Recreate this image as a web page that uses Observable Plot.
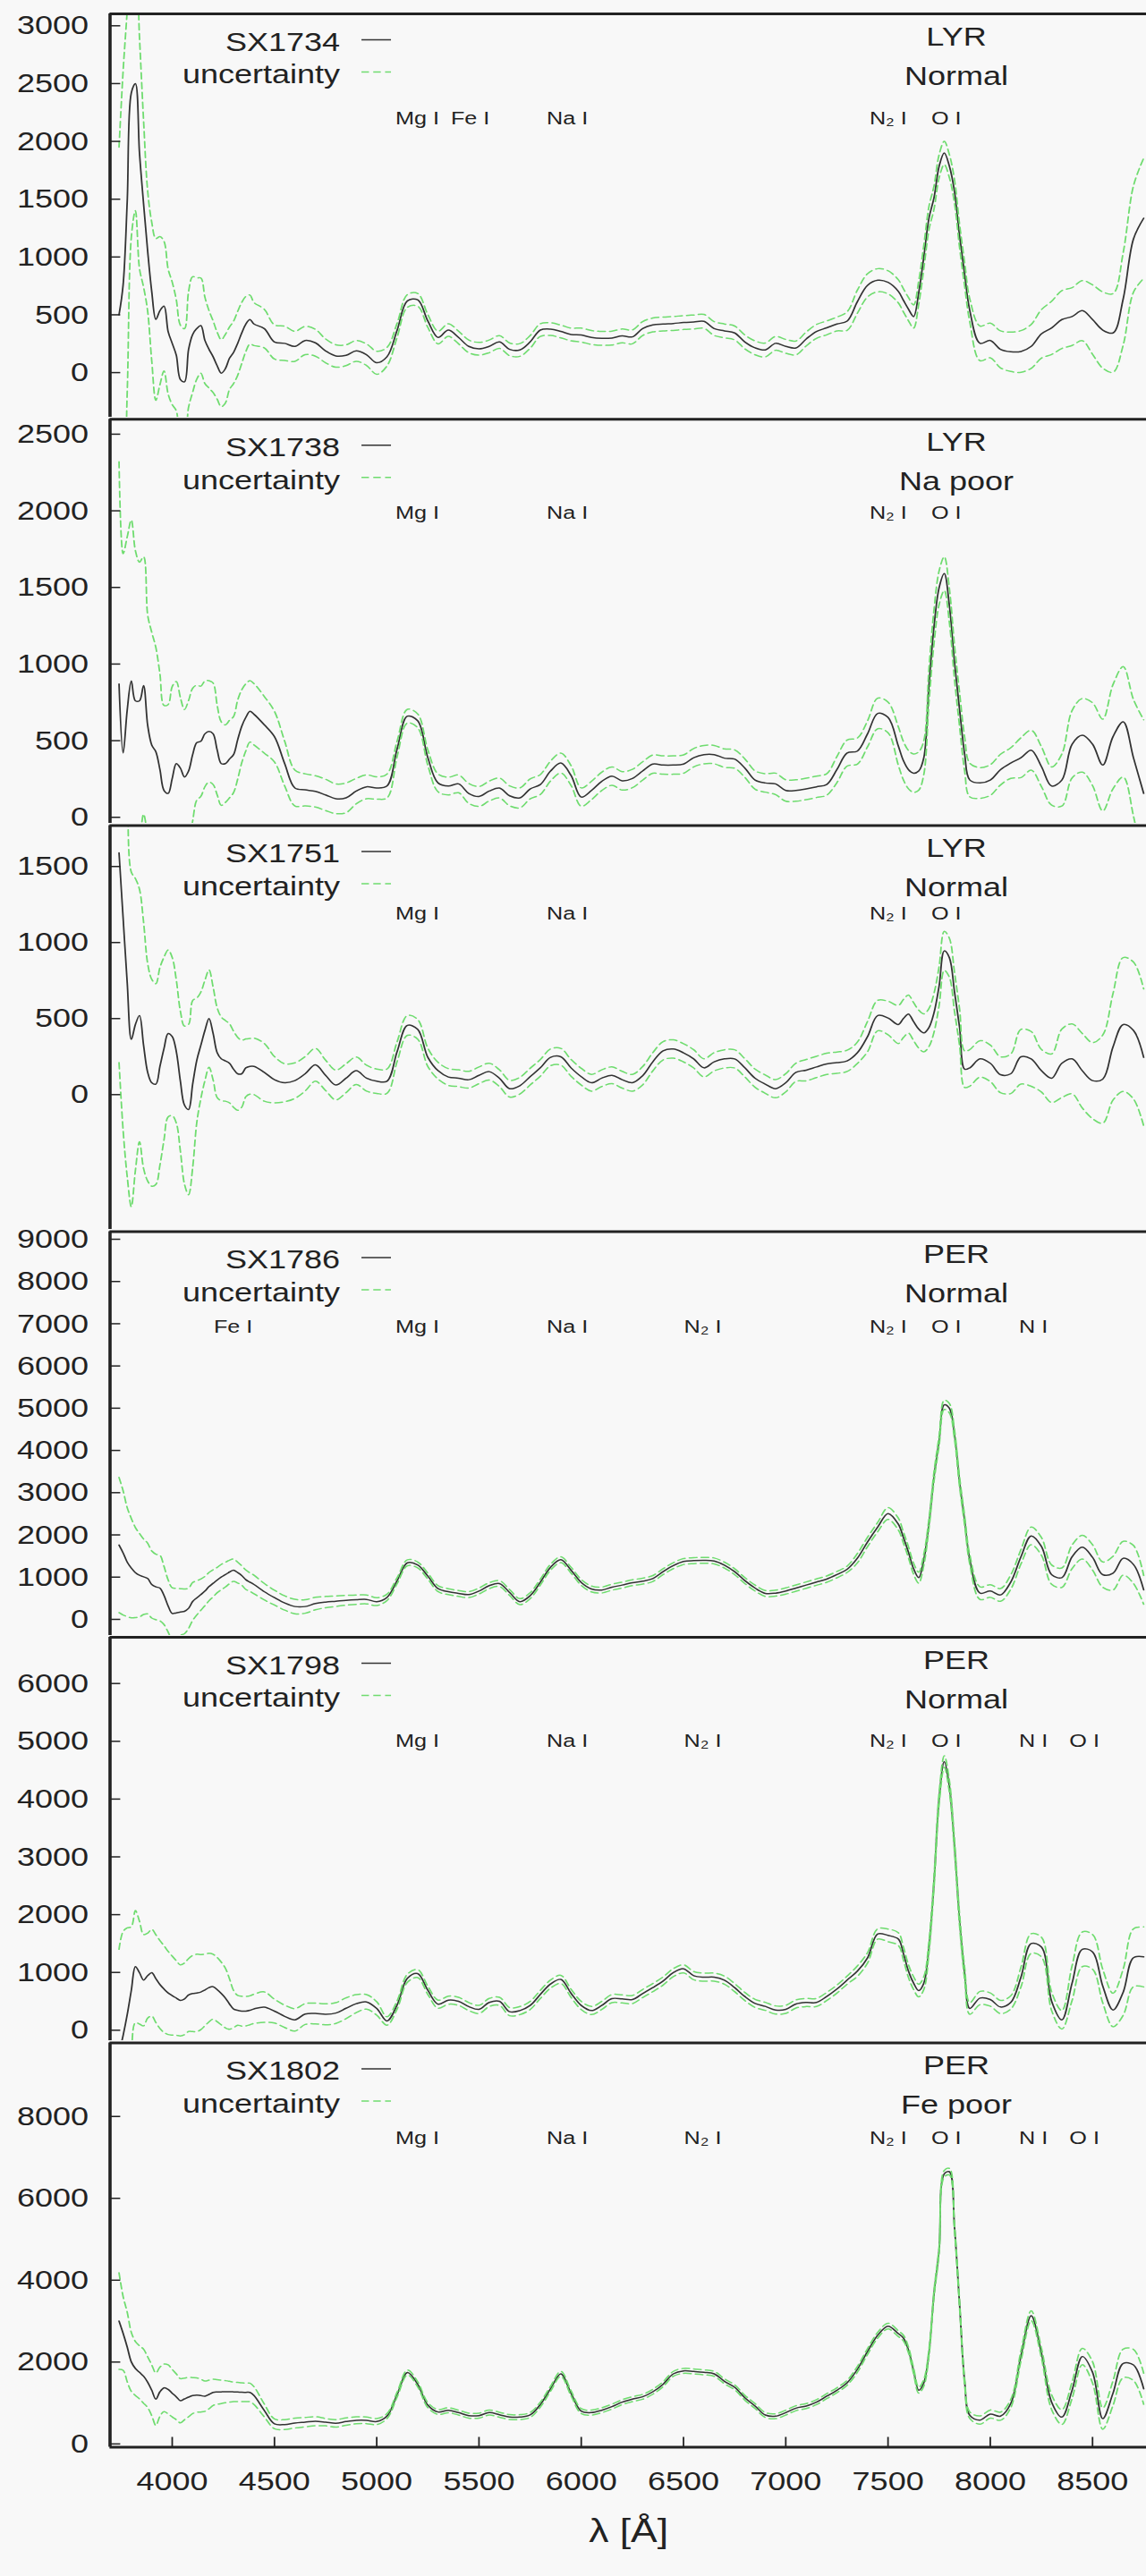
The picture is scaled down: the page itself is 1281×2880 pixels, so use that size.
<!DOCTYPE html>
<html><head><meta charset="utf-8">
<script src="https://cdn.jsdelivr.net/npm/d3@7"></script>
<script src="https://cdn.jsdelivr.net/npm/@observablehq/plot@0.6"></script>
<style>
html,body{margin:0;padding:0;background:#f8f8f8;overflow:hidden}
#wrap{width:1068px;transform:scaleX(1.2);transform-origin:0 0}
#wrap svg{display:block;overflow:visible}
</style></head><body><div id="wrap"></div>
<script>
// ---------------- DATA ----------------
const wavelength = [3740,3760,3780,3800,3820,3840,3860,3880,3900,3920,3940,3960,3980,4000,4020,4040,4060,4080,4100,4120,4140,4160,4180,4200,4220,4240,4260,4280,4300,4320,4340,4360,4380,4400,
4450,4500,4550,4600,4650,4700,4750,4800,4850,4900,4950,5000,5050,5100,5150,5200,5250,5300,5350,5400,5450,5500,5550,5600,5650,5700,5750,5800,5850,5900,5950,
6000,6050,6100,6150,6200,6250,6300,6350,6400,6450,6500,6550,6600,6650,6700,6750,6800,6850,6900,6950,7000,7050,7100,7150,7200,7250,7300,7350,7400,7450,7500,7550,
7575,7600,7625,7650,7675,7700,7725,7750,7775,7800,7825,7850,7875,7900,
7950,8000,8050,8100,8150,8200,8250,8300,8350,8400,8450,8500,8550,8600,8650,8700,8750];

const sx1734 = [500,760,1480,2420,2500,1900,1460,1050,700,460,536,575,356,253,150,-60,-80,201,330,381,407,278,201,137,59,-5,34,124,175,253,343,420,459,420,
381,265,253,227,278,258,188,144,150,188,155,85,137,368,620,630,446,304,368,304,227,206,227,265,201,196,265,368,376,356,330,
325,304,296,299,317,309,381,412,420,425,433,438,443,381,361,343,265,214,196,253,227,214,291,356,387,420,446,613,755,799,781,704,
626,549,485,691,1000,1335,1515,1786,1900,1786,1567,1180,845,536,
253,278,201,180,183,227,335,387,459,485,536,459,368,343,639,1155,1335];
const sx1734Err = [1450,1850,1650,1250,1100,1000,720,520,600,700,640,560,540,530,480,470,460,500,500,438,412,373,335,310,290,290,297,270,270,277,264,238,212,186,
167,148,148,130,122,116,103,97,90,90,93,100,80,60,55,55,55,55,55,55,55,55,55,55,55,55,55,55,55,55,55,
60,60,60,60,60,60,60,60,60,60,60,60,60,60,60,60,60,60,60,60,60,60,60,60,60,60,80,100,100,100,100,100,
100,100,100,100,100,100,100,100,100,100,100,100,100,100,
150,150,160,170,180,190,210,230,250,250,260,300,330,340,400,460,520];

const sx1738 = [870,420,700,890,760,760,860,600,471,428,311,175,156,253,350,321,263,302,409,487,496,545,561,545,438,350,350,380,409,506,594,652,691,672,
604,526,350,191,179,169,146,121,127,171,199,191,204,448,660,630,389,224,204,218,156,136,171,191,140,127,185,214,302,354,273,
132,175,234,269,238,253,302,347,341,341,347,389,409,409,386,380,321,243,224,218,175,175,185,199,214,311,419,432,545,678,652,467,
370,311,288,302,389,857,1246,1499,1590,1382,1012,701,409,243,
224,243,311,354,389,438,331,204,243,477,535,477,341,526,623,389,156];
const sx1738Err = [1450,1300,1130,1050,980,905,840,720,736,680,624,555,580,600,536,460,440,460,433,375,360,345,331,331,292,272,253,253,248,258,238,219,200,200,
185,165,146,117,105,102,102,97,97,83,78,73,78,50,45,45,50,58,58,58,65,65,65,65,65,65,65,65,65,65,65,
60,60,60,60,60,60,60,60,60,60,60,60,60,60,60,60,60,60,60,70,70,70,70,70,70,85,85,85,85,100,100,125,
125,125,125,125,110,110,110,110,110,110,110,110,110,110,
100,100,100,100,130,130,130,125,170,220,240,270,300,340,360,380,480];

const sx1751 = [1590,1160,735,363,461,520,324,147,78,69,186,304,402,382,284,88,-69,-98,69,225,324,422,500,402,275,235,222,206,167,137,137,176,186,186,
147,98,78,92,137,196,127,63,108,157,108,88,88,284,455,430,245,157,116,108,98,127,151,108,39,59,118,176,245,249,176,
118,78,108,127,98,78,124,216,288,300,275,235,176,216,235,235,176,108,69,39,78,147,161,182,202,210,222,275,382,520,504,461,
500,529,480,431,406,441,539,716,945,900,676,441,167,176,
235,206,131,137,249,235,157,108,206,235,157,92,102,314,461,422,245];
const sx1751Err = [1380,1395,1274,1100,960,830,810,715,680,660,650,600,549,520,470,460,520,560,550,410,350,330,320,305,295,275,265,260,250,240,220,190,183,186,
190,152,125,117,113,108,100,98,95,90,85,80,80,65,65,65,60,55,55,55,55,55,55,55,55,55,55,55,55,55,55,
55,55,55,55,55,55,60,60,60,60,60,60,60,60,60,60,60,60,60,60,60,60,70,70,70,70,70,70,100,100,110,125,
125,125,125,125,125,125,128,128,128,128,128,120,120,120,
120,120,118,130,180,180,140,160,225,230,245,250,290,350,440,450,450];

const sx1786 = [1760,1574,1355,1214,1108,1045,1009,967,826,769,741,565,318,141,155,176,191,261,424,508,586,671,776,854,932,1002,1059,1122,1165,1108,1038,939,882,826,
656,515,388,304,304,374,409,430,452,466,473,420,520,918,1340,1290,1023,727,656,614,586,671,798,847,635,420,560,882,1235,1412,1165,
875,720,695,762,812,868,904,967,1129,1271,1369,1390,1398,1383,1285,1129,918,741,614,621,671,741,812,882,953,1059,1186,1447,1835,2188,2506,2259,
1941,1588,1200,988,1412,2259,3388,4235,5080,5000,4376,3247,2329,1412,
621,671,579,882,1482,1976,1729,1059,988,1482,1708,1468,1059,1094,1447,1300,700];
const sx1786Err = [1600,1470,1290,1175,1066,988,893,836,794,776,776,688,618,607,580,550,530,476,448,406,370,346,335,321,300,300,293,279,265,247,230,230,219,219,
195,176,169,170,159,148,134,124,116,109,106,92,75,70,70,70,70,70,70,70,70,70,70,70,70,70,70,70,70,70,70,
70,70,70,70,70,70,70,70,70,70,70,70,70,70,70,70,70,70,70,70,75,75,75,75,75,75,75,110,110,110,140,140,
130,130,130,130,130,110,110,110,110,110,110,110,110,110,
150,150,150,170,170,210,210,230,230,280,280,300,300,400,400,450,340];

const sx1798 = [-400,-90,270,690,1100,996,867,944,996,893,790,712,645,599,557,516,542,609,635,645,660,697,738,753,702,635,557,454,366,345,330,330,345,370,
400,330,240,180,280,290,275,297,380,460,490,377,160,440,900,980,690,450,520,500,410,360,480,500,320,340,428,620,800,880,640,
428,340,428,547,542,531,635,738,851,996,1063,944,918,918,867,738,583,464,413,351,361,454,480,480,583,712,867,1022,1254,1667,1641,1579,
1331,1022,815,686,815,1434,2570,4014,4650,4221,3189,1899,970,377,
557,531,402,480,918,1500,1440,500,180,815,1400,1357,764,351,660,1254,1270];
const sx1798Err = [1800,1800,1500,1100,970,890,790,735,750,760,760,750,720,683,645,614,620,632,658,670,650,619,593,562,555,542,516,438,322,258,258,255,250,253,
263,206,193,193,180,180,181,180,180,155,126,116,72,70,70,70,70,70,70,70,70,70,70,70,70,70,70,70,70,70,70,
70,70,70,70,70,70,70,70,70,70,70,70,70,70,70,70,70,70,70,70,70,70,70,70,70,70,70,90,90,90,110,110,
110,110,110,110,110,100,100,100,100,100,100,100,100,100,
115,115,115,115,170,170,170,160,160,300,300,300,290,290,400,500,520];

const sx1802 = [3000,2700,2368,2004,1843,1749,1654,1508,1311,1093,1275,1370,1333,1239,1151,1056,1100,1144,1180,1195,1180,1166,1209,1260,1268,1272,1275,1275,1272,1268,1262,1260,1258,1180,
820,490,474,510,532,554,532,503,546,576,576,546,678,1209,1745,1460,947,780,823,765,692,692,765,714,656,656,707,962,1348,1712,1239,
801,765,823,911,1020,1093,1151,1275,1457,1712,1785,1770,1749,1712,1530,1384,1129,925,707,678,765,874,925,1020,1166,1311,1494,1821,2259,2659,2878,2696,
2587,2295,1785,1311,1494,2222,3679,4750,6600,6650,5300,3400,1500,700,
583,729,678,984,2149,3130,2222,1020,656,1311,2135,1749,619,1239,1967,1931,1348];
const sx1802Err = [1180,900,850,720,660,650,660,620,620,640,600,580,600,580,560,540,510,480,440,420,400,370,350,320,300,285,270,255,240,235,230,228,226,218,
157,120,120,120,115,110,90,90,90,85,80,75,60,60,60,60,60,60,60,60,60,60,60,60,60,60,60,60,60,60,60,
60,60,60,60,60,60,60,60,60,60,60,60,60,60,60,60,60,60,60,60,60,60,60,60,60,60,60,70,70,70,70,70,
70,70,70,70,80,80,80,80,80,80,80,80,80,80,
100,100,100,100,120,120,120,180,180,200,200,260,260,300,350,380,380];

const seriesNames = ["SX1734","SX1738","SX1751","SX1786","SX1798","SX1802"];
const showerTags = [["LYR","Normal"],["LYR","Na poor"],["LYR","Normal"],["PER","Normal"],["PER","Normal"],["PER","Fe poor"]];

const xTicks = [4000,4500,5000,5500,6000,6500,7000,7500,8000,8500];
const yTicks = [
  [0,500,1000,1500,2000,2500,3000],
  [0,500,1000,1500,2000,2500],
  [0,500,1000,1500],
  [0,1000,2000,3000,4000,5000,6000,7000,8000,9000],
  [0,1000,2000,3000,4000,5000,6000],
  [0,2000,4000,6000,8000]
];

// spectral line identifications (label, wavelength of label centre)
const lineNames1 = ["Mg I","Fe I","Na I","N₂ I","O I"];
const lineWl1    = [5199,5457,5932,7501,7785];
const lineNames2 = ["Mg I","Na I","N₂ I","O I"];
const lineWl2    = [5199,5932,7501,7785];
const lineNames4 = ["Fe I","Mg I","Na I","N₂ I","N₂ I","O I","N I"];
const lineWl4    = [4298,5199,5932,6594,7501,7785,8211];
const lineNames5 = ["Mg I","Na I","N₂ I","N₂ I","O I","N I","O I"];
const lineWl5    = [5199,5932,6594,7501,7785,8211,8460];

// ---------------- SCALES / LAYOUT ----------------
const FONT = "'Liberation Sans', Arial, Helvetica, sans-serif";
const INK = "#222";
const BLACK = "#333";
const GREEN = "#6fdc6f";
const DASH = "7,4";
const W = 1068;            // drawn width (page is stretched 1.2x horizontally)
const ML = 102;
const xDomain = [3696, 8764];
const yDomains = [[-404,3103],[-54,2597],[-901,1769],[-424,9180],[-218,6800],[-80,9799]];
const svgHeight = [466,454,454,454,453,599];
const frameTop = [15,2.3,2.5,2.5,2,2.4];
const frameBottom = [468.3,456.5,456.5,456,455.4,454.5];
const labelCenter = [117,104,98,106,116,106];

const values = [sx1734,sx1738,sx1751,sx1786,sx1798,sx1802];
const errs = [sx1734Err,sx1738Err,sx1751Err,sx1786Err,sx1798Err,sx1802Err];
const lineSets = [
  [lineNames1,lineWl1],[lineNames2,lineWl2],[lineNames2,lineWl2],
  [lineNames4,lineWl4],[lineNames5,lineWl5],[lineNames5,lineWl5]
];

function legendMark(name, tags) {
  return (index, scales, vals, dims) => {
    const t = dims.marginTop;
    const g = d3.create("svg:g").attr("font-family", FONT).attr("font-size", 30).attr("fill", INK);
    g.append("text").attr("x", 316.7).attr("y", t + 42).attr("text-anchor", "end").text(name);
    g.append("line").attr("x1", 336.7).attr("x2", 364.2).attr("y1", t + 29.5).attr("y2", t + 29.5)
      .attr("stroke", BLACK).attr("stroke-width", 1.5);
    g.append("text").attr("x", 316.7).attr("y", t + 78.5).attr("text-anchor", "end").text("uncertainty");
    g.append("line").attr("x1", 336.7).attr("x2", 364.2).attr("y1", t + 65.5).attr("y2", t + 65.5)
      .attr("stroke", GREEN).attr("stroke-width", 1.5).attr("stroke-dasharray", DASH);
    g.append("text").attr("x", 890.8).attr("y", t + 36).text(tags[0]);
    g.append("text").attr("x", 890.8).attr("y", t + 80).text(tags[1]);
    return g.node();
  };
}

const wrap = document.getElementById("wrap");
for (let p = 0; p < 6; p++) {
  const rows = wavelength.map((w, i) => ({
    wl: w, v: values[p][i], up: values[p][i] + errs[p][i], lo: values[p][i] - errs[p][i]
  }));
  const labels = lineSets[p][0].map((n, i) => ({name: n, wl: lineSets[p][1][i]}));
  const last = p === 5;
  const marks = [
    Plot.line(rows, {x: "wl", y: "v", stroke: BLACK, strokeWidth: 1.5, curve: "catmull-rom", clip: true}),
    Plot.line(rows, {x: "wl", y: "up", stroke: GREEN, strokeWidth: 1.5, strokeDasharray: DASH, curve: "catmull-rom", clip: true}),
    Plot.line(rows, {x: "wl", y: "lo", stroke: GREEN, strokeWidth: 1.5, strokeDasharray: DASH, curve: "catmull-rom", clip: true}),
    Plot.ruleY([yDomains[p][1]], {stroke: INK, strokeWidth: 3}),
    Plot.ruleX([xDomain[0]], {stroke: INK, strokeWidth: 3}),
    Plot.axisY({ticks: yTicks[p], tickSize: -10, tickPadding: 30, tickFormat: d3.format("d"), label: null, strokeWidth: 1.5}),
    Plot.text(labels, {x: "wl", text: "name", frameAnchor: "top", dy: labelCenter[p], fontSize: 21, lineAnchor: "middle", fill: INK}),
    legendMark(seriesNames[p], showerTags[p])
  ];
  if (last) {
    marks.push(Plot.ruleY([yDomains[p][0]], {stroke: INK, strokeWidth: 3}));
    marks.push(Plot.axisX({ticks: xTicks, tickSize: -11, tickPadding: 38, tickFormat: d3.format("d"), label: null, strokeWidth: 1.5}));
    marks.push(Plot.text(["λ [Å]"], {text: d => d, frameAnchor: "bottom", dy: 94.5, fontSize: 37, lineAnchor: "middle", fill: INK}));
  }
  const chart = Plot.plot({
    width: W,
    height: svgHeight[p],
    marginLeft: ML,
    marginRight: 0,
    marginTop: frameTop[p],
    marginBottom: last ? svgHeight[p] - frameBottom[p] : 0,
    style: {background: "transparent", fontFamily: FONT, fontSize: "30px", color: INK, overflow: "visible"},
    x: {domain: xDomain, range: [ML, 1067.5], axis: last ? undefined : null},
    y: {domain: yDomains[p], range: [frameBottom[p], frameTop[p]]},
    marks
  });
  wrap.appendChild(chart);
}
</script>
</body></html>
